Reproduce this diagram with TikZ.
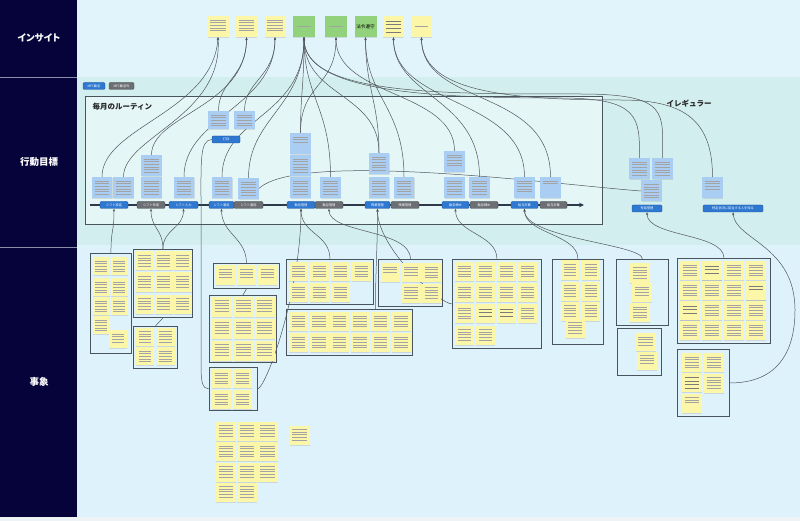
\documentclass[tikz,border=0pt]{standalone}
\usepackage{fontspec}
\setmainfont{Noto Sans CJK JP}
\newfontfamily\jpp[RawFeature=+palt]{Noto Sans CJK JP}
\usetikzlibrary{arrows.meta,shadows,calc}
\definecolor{navy}{HTML}{05033A}
\definecolor{insbg}{HTML}{E1F4FB}
\definecolor{actbg}{HTML}{D3EEEE}
\definecolor{rtbg}{HTML}{E5F6F6}
\definecolor{evbg}{HTML}{DEF2FB}
\definecolor{botc}{HTML}{EEF3F5}
\definecolor{sepc}{HTML}{8A8CA8}
\definecolor{ync}{HTML}{FCF6A8}
\definecolor{bnc}{HTML}{A9CDF3}
\definecolor{gnc}{HTML}{92D27C}
\definecolor{btnb}{HTML}{2E78D2}
\definecolor{btnbd}{HTML}{1D4F90}
\definecolor{btng}{HTML}{6B6E72}
\definecolor{btngd}{HTML}{44474B}
\definecolor{boxc}{HTML}{4A545C}
\definecolor{linec}{HTML}{50565C}
\definecolor{tlcol}{HTML}{2E3A4A}
\pgfdeclarelayer{bg}
\pgfdeclarelayer{mid}
\pgfsetlayers{bg,mid,main}
\begin{document}
\begin{tikzpicture}[x=1pt,y=-1pt,
  txtc/.style={draw=black!36, line width=0.42pt},
  tl/.style={path picture={
    \foreach \k in {1,...,#1}{
      \pgfmathsetmacro\tly{-1.4-2.6*\k}
      \draw[txtc] ([xshift=2.8pt,yshift=\tly pt]path picture bounding box.north west) -- ([xshift=-2.8pt,yshift=\tly pt]path picture bounding box.north east);
    }}},
  tlc/.style={path picture={\draw[txtc] ([xshift=4pt]path picture bounding box.west) -- ([xshift=-4pt]path picture bounding box.east);}},
  tlb/.style={path picture={
    \foreach \k in {1,...,#1}{
      \pgfmathsetmacro\tly{-1.2-3.7*\k}
      \draw[txtc, line width=0.75pt, draw=black!52] ([xshift=2.6pt,yshift=\tly pt]path picture bounding box.north west) -- ([xshift=-2.6pt,yshift=\tly pt]path picture bounding box.north east);
    }}},
  note/.style={rectangle, inner sep=0pt, drop shadow={shadow xshift=0.3pt, shadow yshift=-1pt, opacity=0.22}},
  yn/.style={note, fill=ync, minimum width=19pt, minimum height=19pt, tl=5},
  bn/.style={note, fill=bnc, minimum width=20.5pt, minimum height=21pt, tl=6},
  gn/.style={note, fill=gnc, minimum width=22pt, minimum height=21pt},
  btn/.style={rectangle, rounded corners=1.2pt, inner sep=0pt, minimum height=7pt, text=white, font=\fontsize{3.2}{3.6}\selectfont, line width=0.35pt},
  bb/.style={btn, fill=btnb, draw=btnbd},
  gb/.style={btn, fill=btng, draw=btngd},
  eb/.style={rectangle, draw=boxc, line width=0.9pt, inner sep=0pt, anchor=north west},
  hdr/.style={text=white, font=\fontsize{9.5}{10}\selectfont\bfseries},
  ttl/.style={text=black!85, font=\fontsize{7.5}{8}\selectfont\bfseries},
  con/.style={draw=linec, line width=0.5pt},
  arr/.style={con, -{Stealth[length=3pt,width=2.3pt]}}
]
\useasboundingbox (0,0) rectangle (800,521);

% ---------------- backgrounds ----------------
\begin{pgfonlayer}{bg}
\fill[navy] (0,0) rectangle (77,521);
\fill[insbg] (77,0) rectangle (800,77);
\fill[actbg] (77,77) rectangle (800,245);
\fill[evbg] (77,245) rectangle (800,517);
\fill[botc] (0,517) rectangle (800,521);
\draw[sepc,line width=1pt] (0,77.5) -- (77,77.5);
\draw[sepc,line width=1pt] (0,248) -- (77,248);
\node[rectangle, draw=boxc, line width=0.8pt, fill=rtbg, anchor=north west, minimum width=517pt, minimum height=128pt] (rt) at (85,96) {};
\coordinate (tl0) at (90,205);
\coordinate (tl1) at (584,205);
\draw[tlcol, line width=1.1pt, -{Stealth[length=5pt,width=4.5pt]}] (tl0) -- (tl1);
% event boxes
\node[eb, minimum width=41pt, minimum height=100pt] (A) at (90,253) {};
\node[eb, minimum width=59pt, minimum height=68pt] (B) at (133,249) {};
\node[eb, minimum width=44pt, minimum height=42pt] (C) at (133,326) {};
\node[eb, minimum width=66pt, minimum height=25pt] (D) at (213,263) {};
\node[eb, minimum width=67pt, minimum height=67pt] (E) at (209,295) {};
\node[eb, minimum width=48pt, minimum height=43pt] (F) at (209,367) {};
\node[eb, minimum width=87pt, minimum height=45pt] (G) at (286,259) {};
\node[eb, minimum width=64pt, minimum height=47pt] (H) at (378,259) {};
\node[eb, minimum width=126pt, minimum height=46pt] (I) at (286,309) {};
\node[eb, minimum width=89pt, minimum height=89pt] (J) at (452,259) {};
\node[eb, minimum width=51pt, minimum height=85pt] (K) at (552,259) {};
\node[eb, minimum width=52pt, minimum height=66pt] (L) at (616,259) {};
\node[eb, minimum width=44pt, minimum height=47pt] (M) at (617,328) {};
\node[eb, minimum width=93pt, minimum height=85pt] (N) at (677,258) {};
\node[eb, minimum width=52pt, minimum height=67pt] (O) at (677,349) {};
\end{pgfonlayer}

% ---------------- headers ----------------
\node[hdr] (h1) at (39,38) {\jpp インサイト};
\node[hdr] (h2) at (39,162) {行動目標};
\node[hdr] (h3) at (39,382) {事象};

% ---------------- insight notes ----------------
\node[yn, minimum width=21pt, minimum height=21pt] (i1) at (218,26.5) {};
\node[yn, minimum width=21pt, minimum height=21pt] (i2) at (246.5,26.5) {};
\node[yn, minimum width=21pt, minimum height=21pt] (i3) at (275,26.5) {};
\node[gn, tlc] (i4) at (304,26.5) {};
\node[gn, tlc] (i5) at (336,26.5) {};
\node[gn, font=\fontsize{4.6}{5}\selectfont] (i6) at (365.5,26.5) {法令遵守};
\node[yn, minimum width=21pt, minimum height=21pt, tlb=4] (i7) at (393.5,26.5) {};
\node[yn, minimum width=21pt, minimum height=21pt, tlc] (i8) at (421.5,26.5) {};

% ---------------- legend & titles ----------------
\node[bb, minimum width=22pt] (lg1) at (94,86) {MFC勤怠};
\node[gb, minimum width=25pt] (lg2) at (121.5,86) {MFC勤怠外};
\node[ttl, anchor=west] (ttl1) at (89,107) {毎月のルーティン};
\node[ttl] (ttl2) at (689,104) {イレギュラー};

% ---------------- blue notes ----------------
\node[bn] (b1) at (102,187.5) {};
\node[bn] (b2) at (123.5,187.5) {};
\node[bn] (b3a) at (151.5,165.5) {};
\node[bn] (b3b) at (151.5,187.5) {};
\node[bn] (b4) at (184,187.5) {};
\node[bn] (b5) at (222,187.5) {};
\node[bn] (b6) at (248.5,188.5) {};
\node[bn, minimum height=18pt, tl=5] (t1) at (218.5,120) {};
\node[bn, minimum height=18pt, tl=5] (t2) at (244.5,120) {};
\node[bn, tl=3] (c7a) at (300.5,143.5) {};
\node[bn] (c7b) at (300.5,165.5) {};
\node[bn] (c7c) at (300.5,187.5) {};
\node[bn] (b8) at (330.5,187.5) {};
\node[bn] (r1) at (379,163.5) {};
\node[bn] (r2) at (379,187.5) {};
\node[bn] (r3) at (404,187.5) {};
\node[bn, tl=5] (d1) at (454.5,161.5) {};
\node[bn] (d2) at (454.5,187.5) {};
\node[bn] (d3) at (479.5,187.5) {};
\node[bn, tl=5] (g1) at (524.5,187.5) {};
\node[bn, tl=2] (g2) at (550.5,187.5) {};
\node[bn] (n1) at (639.5,168.5) {};
\node[bn] (n2) at (662.5,168.5) {};
\node[bn] (n3) at (651.5,191) {};
\node[bn, tl=4] (n4) at (712.5,187.5) {};

% ---------------- timeline buttons ----------------
\node[bb, minimum width=28pt] (s1) at (114,205) {シフト設定};
\node[gb, minimum width=28pt] (s2) at (151,205) {シフト作成};
\node[bb, minimum width=29pt] (s3) at (183.5,205) {シフト入力};
\node[bb, minimum width=25pt] (s4) at (221.5,205) {シフト運用};
\node[gb, minimum width=29pt] (s5) at (248.5,205) {シフト運用};
\node[bb, minimum width=28pt] (s6) at (301,205) {勤怠管理};
\node[gb, minimum width=28pt] (s7) at (329,205) {勤怠管理};
\node[bb, minimum width=25pt] (s8) at (377.5,205) {残業管理};
\node[gb, minimum width=28pt] (s9) at (405,205) {残業管理};
\node[bb, minimum width=27pt] (s10) at (455.5,205) {勤怠締め};
\node[gb, minimum width=28pt] (s11) at (484,205) {勤怠締め};
\node[bb, minimum width=27pt] (s12) at (524.5,205) {給与計算};
\node[gb, minimum width=27pt] (s13) at (553.5,205) {給与計算};
\node[bb, minimum width=28pt] (dk) at (226,139.5) {打刻};
\node[bb, minimum width=30pt] (ir1) at (647,208.5) {有給管理};
\node[bb, minimum width=60pt] (ir2) at (733,208.5) {特定状況に該当する人を知る};

% ---------------- event notes ----------------
% A
\foreach \r/\yy in {1/266,2/287,3/306,4/325}{\node[yn, minimum width=17pt, minimum height=18pt] (aa\r) at (101,\yy) {};}
\foreach \r/\yy in {1/266,2/287,3/306}{\node[yn, minimum width=17pt, minimum height=18pt] (ab\r) at (119,\yy) {};}
\node[yn, minimum width=18pt, minimum height=18pt, tl=4] (ac) at (118,339) {};
% B
\foreach \c/\xx in {1/144.5,2/163.5,3/182.5}{\foreach \r/\yy in {1/261,2/282,3/304}{\node[yn, minimum width=18pt] (bb\c\r) at (\xx,\yy) {};}}
% C
\foreach \c/\xx in {1/145,2/165.5}{\foreach \r/\yy in {1/336.5,2/356}{\node[yn, minimum width=18pt, minimum height=18pt] (cc\c\r) at (\xx,\yy) {};}}
% D
\foreach \c/\xx in {1/225.5,2/246.5,3/267.5}{\node[yn, tl=4] (dd\c) at (\xx,275) {};}
% E
\foreach \c/\xx in {1/222,2/243.5,3/264.5}{\foreach \r/\yy in {1/306.5,2/328.5,3/350.5}{\node[yn, minimum width=20pt, minimum height=20pt] (ee\c\r) at (\xx,\yy) {};}}
% F
\foreach \c/\xx in {1/221.5,2/242.5}{\foreach \r/\yy in {1/378.5,2/399.5}{\node[yn] (ff\c\r) at (\xx,\yy) {};}}
% G
\foreach \c/\xx in {1/298.5,2/319.5,3/340.5,4/361.5}{\node[yn] (gg\c1) at (\xx,271.5) {};}
\foreach \c/\xx in {1/298.5,2/319.5,3/340.5}{\node[yn] (gg\c2) at (\xx,292.5) {};}
% H
\node[yn, tl=3] (hh1) at (390,272.5) {};
\node[yn, tl=4] (hh2) at (411,272.5) {};
\node[yn] (hh3) at (431.5,272.5) {};
\node[yn] (hh4) at (411,293) {};
\node[yn] (hh5) at (431.5,293) {};
% I
\foreach \c/\xx in {1/298.5,2/319,3/339.5,4/360,5/380.5,6/401}{\foreach \r/\yy in {1/321.5,2/342.5}{\node[yn] (ii\c\r) at (\xx,\yy) {};}}
% J
\foreach \c/\xx in {1/464.5,2/485.5,3/506.5,4/527.5}{\foreach \r/\yy in {1/271.5,2/292.5}{\node[yn] (jj\c\r) at (\xx,\yy) {};}}
\node[yn] (jj13) at (464.5,313.5) {};
\node[yn, tlb=3] (jj23) at (485.5,313.5) {};
\node[yn, tlb=3] (jj33) at (506.5,313.5) {};
\node[yn] (jj43) at (527.5,313.5) {};
\node[yn] (jj14) at (464.5,335) {};
\node[yn] (jj24) at (485.5,335) {};
% K
\foreach \c/\xx in {1/570,2/591}{\foreach \r/\yy in {1/270,2/291,3/311}{\node[yn, minimum width=18pt] (kk\c\r) at (\xx,\yy) {};}}
\node[yn] (kk4) at (575,328) {};
% L, M
\node[yn, minimum width=20pt] (ll1) at (640,273) {};
\node[yn, minimum width=20pt, tl=4] (ll2) at (642,292.5) {};
\node[yn, minimum width=20pt] (ll3) at (640,312.5) {};
\node[yn, minimum width=20pt, minimum height=18pt, tl=4] (mm1) at (645.5,342) {};
\node[yn, minimum width=20pt, minimum height=18pt, tl=4] (mm2) at (647,360.5) {};
% N
\foreach \c/\xx in {1/690,2/712,3/734,4/756}{\foreach \r/\yy in {1/270.5,2/290.5,3/310.5,4/330.5}{\node[yn, minimum width=20pt] (nn\c\r) at (\xx,\yy) {};}}
\node[yn, minimum width=20pt, tlb=3] (nnb1) at (712,270.5) {};
\node[yn, minimum width=20pt, tlb=3] (nnb2) at (690,310.5) {};
\node[yn, minimum width=20pt, tlb=2] (nnb3) at (756,290.5) {};
% O
\node[yn, minimum width=20pt] (oo1) at (692,362.5) {};
\node[yn, minimum width=20pt, tlb=4] (oo2) at (692,382) {};
\node[yn, minimum width=20pt, tl=3] (oo3) at (692,403) {};
\node[yn, minimum width=20pt] (oo4) at (714,362.5) {};
\node[yn, minimum width=20pt] (oo5) at (714,383) {};
% bottom group
\foreach \c/\xx in {1/226,2/247,3/267.5}{\foreach \r/\yy in {1/431,2/451.5,3/472}{\node[yn, minimum width=20pt] (pp\c\r) at (\xx,\yy) {};}}
\node[yn, minimum width=20pt] (pp14) at (226,492) {};
\node[yn, minimum width=20pt] (pp24) at (247,492) {};
\node[yn, minimum width=20pt] (pq) at (299.5,435) {};

% ---------------- connectors ----------------
\begin{pgfonlayer}{mid}
% to insights
\draw[arr] (b1.north) .. controls +(0,-50) and +(-5,75) .. (i1.south);
\draw[arr] (b2.north) .. controls +(0,-40) and +(5,80) .. (i1.south);
\draw[arr] (b3a.north) .. controls +(0,-40) and +(0,70) .. (i2.south);
\draw[arr] (t1.north) .. controls +(0,-30) and +(0,40) .. (i2.south);
\draw[arr] (b4.north) .. controls +(0,-60) and +(0,70) .. (i3.south);
\draw[arr] (t2.north) .. controls +(0,-30) and +(0,40) .. (i3.south);
\draw[arr] (b5.north) .. controls +(0,-60) and +(0,80) .. (i4.south);
\draw[arr] (b6.north) .. controls +(0,-60) and +(0,70) .. (i4.south);
\draw[arr] (c7a.north) .. controls +(0,-40) and +(0,50) .. (i4.south);
\draw[arr] (b8.north) .. controls +(0,-70) and +(0,60) .. (i4.south);
\draw[arr] (r1.north) .. controls +(0,-60) and +(0,60) .. (i4.south);
\draw[arr] (n1.north) .. controls +(0,-40) and +(80,0) .. (560,98) .. controls (430,98) and (304,92) .. (i4.south);
\draw[arr] (n2.north) .. controls +(0,-45) and +(90,0) .. (580,94) .. controls (440,94) and (304,95) .. (i4.south);
\draw[arr] (c7a.north) .. controls +(0,-50) and +(0,50) .. (i5.south);
\draw[arr] (d1.north) .. controls +(0,-60) and +(0,60) .. (i5.south);
\draw[arr] (r1.north) .. controls +(0,-50) and +(0,50) .. (i6.south);
\draw[arr] (r3.north) .. controls +(0,-70) and +(0,60) .. (i6.south);
\draw[arr] (d3.north) .. controls +(0,-80) and +(0,60) .. (i7.south);
\draw[arr] (g1.north) .. controls +(0,-80) and +(0,70) .. (i7.south);
\draw[arr] (g2.north) .. controls +(0,-90) and +(0,70) .. (i8.south);
\draw[arr] (n4.north) .. controls +(0,-60) and +(60,0) .. (620,100) .. controls (500,100) and (422,90) .. (i8.south);
\draw[con] (b6.east) .. controls (300,150) and (560,185) .. (n3.west);
% events to goals
\draw[arr] (A.north) .. controls +(0,-25) and +(0,25) .. (s1.south);
\draw[arr] (B.north) .. controls +(0,-20) and +(0,20) .. (s2.south);
\draw[arr] (B.north) .. controls +(0,-20) and +(0,20) .. (s3.south);
\draw[con] (B.south) -- (C.north);
\draw[arr] (D.north) .. controls +(0,-25) and +(0,25) .. (s4.south);
\draw[con] (E.north) -- (D.south);
\draw[arr] (F.east) .. controls +(10,-5) and +(0,80) .. (s6.south);
\draw[arr] (G.north) .. controls +(0,-25) and +(0,25) .. (s6.south);
\draw[arr] (H.north) .. controls +(0,-30) and +(0,25) .. (s7.south);
\draw[arr] ([xshift=26pt]I.north) .. controls +(0,-40) and +(0,40) .. (s8.south);
\draw[arr] (J.west) .. controls +(-12,0) and +(0,40) .. (s8.south);
\draw[arr] (J.north) .. controls +(0,-25) and +(0,25) .. (s10.south);
\draw[arr] (K.north) .. controls +(0,-25) and +(0,25) .. (s12.south);
\draw[arr] (L.north) .. controls +(0,-15) and +(0,30) .. (s12.south);
\draw[arr] (N.north) .. controls +(0,-25) and +(0,25) .. (ir1.south);
\draw[arr] (O.east) .. controls (775,383) and (795,355) .. (795,310) .. controls (795,245) and (735,240) .. (ir2.south);
\draw[con] (dk.west) .. controls (200,140) and (201,160) .. (201,200) -- (201,365) .. controls (201,385) and (203,388) .. (F.west);
\end{pgfonlayer}
\end{tikzpicture}
\end{document}
